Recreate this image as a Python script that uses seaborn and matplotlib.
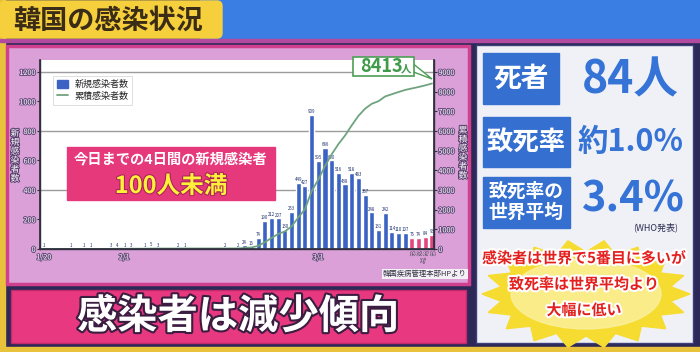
import matplotlib
matplotlib.use("Agg")
import matplotlib.pyplot as plt
import matplotlib.patheffects as pe
from matplotlib.patches import Rectangle, FancyBboxPatch, Polygon, Ellipse, Patch
from matplotlib.lines import Line2D
import numpy as np
import pandas as pd
import seaborn as sns

# ---------------- data ----------------
dates = pd.date_range("2020-01-20", "2020-03-18", freq="D")
new_cases = [1, 0, 0, 0, 1, 0, 1, 1, 0, 0,
             3, 4, 1, 3, 0, 1, 5, 3, 0, 0,
             2, 1, 0, 0, 0, 0, 0, 2, 0, 2,
             24, 16, 74, 190, 212, 207, 130, 253, 449, 427,
             909, 595, 686, 600, 516, 438, 518, 483, 367, 248,
             131, 242, 114, 110, 107, 76, 74, 84, 93]
cumulative = [1, 1, 1, 1, 2, 2, 3, 4, 4, 4,
              7, 11, 12, 15, 15, 16, 21, 24, 24, 24,
              26, 27, 27, 27, 27, 27, 27, 29, 29, 31,
              55, 80, 154, 344, 556, 763, 893, 1146, 1595, 2022,
              2931, 3526, 4212, 4812, 5328, 5766, 6284, 6767, 7134, 7382,
              7513, 7755, 7869, 7979, 8086, 8162, 8236, 8320, 8413]
highlight_days = ["3/15", "3/16", "3/17", "3/18"]
xtick_days = ["1/20", "2/1", "3/1"]
left_ticks = [0, 200, 400, 600, 800, 1000, 1200]
right_ticks = [0, 1000, 2000, 3000, 4000, 5000, 6000, 7000, 8000, 9000]
grid_levels = [400, 800, 1200]

title = "韓国の感染状況"
banner = "感染者は減少傾向"
overlay1 = "今日までの4日間の新規感染者"
overlay2 = "100人未満"
deaths = "84人"
fatality = "約1.0%"
world_avg = "3.4%"
note_lines = ["感染者は世界で5番目に多いが", "致死率は世界平均より", "大幅に低い"]

# ---------------- setup ----------------
sns.set_theme(style="white")
plt.rcParams["font.family"] = ["Noto Sans CJK JP", "DejaVu Sans"]

W, H = 700, 352
fig = plt.figure(figsize=(7, 3.52), dpi=100)
fig.patch.set_facecolor("#2c2858")

def rect(x0, y0, x1, y1):
    return [x0 / W, 1 - y1 / H, (x1 - x0) / W, (y1 - y0) / H]

# background canvas in pixel coordinates
bg = fig.add_axes([0, 0, 1, 1], zorder=0)
bg.set_xlim(0, W); bg.set_ylim(H, 0); bg.axis("off")

bg.add_patch(Rectangle((0, 0), 5, H, color="#e9c23c"))
bg.add_patch(Rectangle((0, 347), W, 5, color="#e9c23c"))
bg.add_patch(Rectangle((200, 0), 500, 39, color="#3a7de3"))
bg.add_patch(Rectangle((0, 39), W, 3, color="#b24aa0"))
bg.add_patch(FancyBboxPatch((0, 1), 222, 37, boxstyle="round,pad=0,rounding_size=5",
                            color="#f6cf3d"))
bg.text(108, 21, title, ha="center", va="center", fontsize=19.5, fontweight="bold",
        color="#3a2c16")

# left chart panel
bg.add_patch(Rectangle((7, 46), 462, 238, facecolor="#dca0d8", edgecolor="#d0408e", lw=2.5))
# bottom banner
bg.add_patch(Rectangle((11, 290), 455, 53, facecolor="#e8387f", edgecolor="#c02a6a", lw=1))
bg.text(238, 317, banner, ha="center", va="center", fontsize=29, fontweight="bold",
        color="white", path_effects=[pe.withStroke(linewidth=3, foreground="#3a1d40")])

# right panel
bg.add_patch(Rectangle((476, 45), 217, 298, facecolor="#f0f1f6", edgecolor="#3c3f7a", lw=1))
blue_box = "#3570d0"
bg.add_patch(Rectangle((483, 53), 76, 51, color=blue_box))
bg.text(521, 79, "死者", ha="center", va="center", fontsize=20, fontweight="bold", color="white")
bg.text(630, 80, deaths, ha="center", va="center", fontsize=32, fontweight="bold", color="#3573d6")
bg.add_patch(Rectangle((483, 117), 87, 50, color=blue_box))
bg.text(526, 142, "致死率", ha="center", va="center", fontsize=19, fontweight="bold", color="white")
bg.text(631, 142, fatality, ha="center", va="center", fontsize=22, fontweight="bold", color="#3573d6")
bg.add_patch(Rectangle((483, 177), 87, 51, color=blue_box))
bg.text(526, 202, "致死率の\n世界平均", ha="center", va="center", fontsize=13.5, fontweight="bold",
        color="white", linespacing=1.15)
bg.text(633, 199, world_avg, ha="center", va="center", fontsize=30, fontweight="bold", color="#3573d6")
bg.text(656, 227, "(WHO発表)", ha="center", va="center", fontsize=6.5, color="#2a2c50")

# starburst
n = 18
ang = np.linspace(0, 2 * np.pi, 2 * n, endpoint=False)
rx = np.where(np.arange(2 * n) % 2 == 0, 104, 86)
ry = np.where(np.arange(2 * n) % 2 == 0, 54, 42)
star = np.column_stack([586 + rx * np.cos(ang), 294 + ry * np.sin(ang)])
bg.add_patch(Polygon(star, closed=True, color="#f6dc30"))
bg.add_patch(Ellipse((586, 294), 150, 70, color="#fbf1a0", alpha=0.8))
for txt, yy in zip(note_lines, [258, 284, 310]):
    bg.text(584, yy, txt, ha="center", va="center", fontsize=10.8, fontweight="bold",
            color="#e4201e", path_effects=[pe.withStroke(linewidth=3, foreground="white")])

# ---------------- chart ----------------
labels = [f"{d.month}/{d.day}" for d in dates]
df = pd.DataFrame({
    "day": np.arange(len(dates)),
    "label": labels,
    "new": new_cases,
    "cum": cumulative,
})
df["kind"] = np.where(df["label"].isin(highlight_days), "recent", "normal")

ax = fig.add_axes(rect(40, 60, 434, 249), zorder=2)
ax.set_facecolor("white")
sns.barplot(data=df, x="day", y="new", hue="kind", hue_order=["normal", "recent"],
            palette={"normal": "#3b63c3", "recent": "#e2457f"}, native_scale=True,
            dodge=False, width=0.76, saturation=1, legend=False, ax=ax)
ax.set_xlim(-0.6, 58.3)
ax.set_ylim(0, 1281)
for g in grid_levels:
    ax.axhline(g, color="#9c9c9c", lw=1, zorder=0.5)
ax.set_xlabel(""); ax.set_ylabel("")

pos = [labels.index(t) for t in xtick_days]
ax.set_xticks(pos, xtick_days)
ax.set_yticks(left_ticks, [str(t) for t in left_ticks])
ax.tick_params(axis="both", length=2, width=0.8, colors="#303040", labelsize=5.2, pad=1.2)
stroke = [pe.withStroke(linewidth=1.4, foreground="#6a5080")]
for lbl in ax.get_yticklabels() + ax.get_xticklabels():
    lbl.set_color("white")
    lbl.set_path_effects(stroke)
for s in ["left", "bottom", "right"]:
    ax.spines[s].set_color("#303040"); ax.spines[s].set_linewidth(1)
ax.spines["top"].set_visible(False)

for d, v in zip(df["day"], df["new"]):
    if v > 0:
        ax.annotate(str(v), (d, v), xytext=(0, 0.6), textcoords="offset points",
                    ha="center", va="bottom", fontsize=3.1, color="#1c2f70")

ax2 = ax.twinx()
ax2.set_zorder(3)
ax2.patch.set_visible(False)
sns.lineplot(data=df, x="day", y="cum", ax=ax2, color="#6fa37f", lw=1.3, legend=False)
ax2.set_ylim(0, 1281 * 7.5)
ax2.set_xlim(-0.6, 58.3)
ax2.set_yticks(right_ticks, [str(t) for t in right_ticks])
ax2.tick_params(axis="y", length=2, width=0.8, colors="#303040", labelsize=5.2, pad=1.2)
for lbl in ax2.get_yticklabels():
    lbl.set_color("white")
    lbl.set_path_effects(stroke)
ax2.set_ylabel(""); ax2.set_xlabel("")
for s in ["left", "bottom", "right"]:
    ax2.spines[s].set_color("#303040")
ax2.spines["top"].set_visible(False)

handles = [Patch(color="#3b63c3", label="新規感染者数"),
           Line2D([0], [0], color="#6fa37f", lw=1.3, label="累積感染者数")]
leg = ax2.legend(handles=handles, loc="upper left", bbox_to_anchor=(0.022, 0.94),
                 fontsize=6.5, frameon=True, fancybox=False, edgecolor="#d0d0d0",
                 handlelength=1.2, handleheight=1.0, borderpad=0.4, labelspacing=0.35)
leg.get_frame().set_linewidth(0.6)

# ---------------- overlays ----------------
ov = fig.add_axes([0, 0, 1, 1], zorder=5)
ov.set_xlim(0, W); ov.set_ylim(H, 0); ov.axis("off"); ov.patch.set_visible(False)

vstroke = [pe.withStroke(linewidth=1.5, foreground="#5a4070")]
ov.text(15, 156, "\n".join("新規感染者数"), ha="center", va="center", fontsize=6.3,
        color="white", linespacing=1.0, path_effects=vstroke)
ov.text(463, 153, "\n".join("累積感染者数"), ha="center", va="center", fontsize=6.3,
        color="white", linespacing=1.0, path_effects=vstroke)

ov.add_patch(Rectangle((67, 147), 208, 53, color="#e6397c"))
ov.text(171, 159, overlay1, ha="center", va="center", fontsize=10.3, fontweight="bold", color="white")
ov.text(171, 186, overlay2, ha="center", va="center", fontsize=17, fontweight="bold",
        color="#fff03a", path_effects=[pe.withStroke(linewidth=1.5, foreground="#a8225a")])

ov.add_patch(Polygon([(411, 62), (432, 79), (411, 71)], closed=True, facecolor="white",
                     edgecolor="#4d9e55", lw=1))
ov.add_patch(Rectangle((353, 57), 61, 19, facecolor="white", edgecolor="#4d9e55", lw=1.2))
ov.text(381, 67, f"{cumulative[-1]}", ha="center", va="center", fontsize=13, fontweight="bold",
        color="#3f9a4a")
ov.text(406, 69, "人", ha="center", va="center", fontsize=7.5, fontweight="bold", color="#3f9a4a")

for i, t in enumerate(highlight_days):
    ov.text(412.5 + i * 6.7, 254, t.split("/")[1], ha="center", va="center", fontsize=3.4,
            color="white", path_effects=[pe.withStroke(linewidth=0.8, foreground="#7a5080")])
ov.text(423, 261, "3/", ha="center", va="center", fontsize=3.8, color="white",
        path_effects=[pe.withStroke(linewidth=0.8, foreground="#7a5080")])
ov.text(425, 274, "韓国疾病管理本部HPより", ha="center", va="center", fontsize=5.3,
        color="#303040", bbox=dict(facecolor="#f4f0f6", edgecolor="none", pad=1))

fig.savefig("out.png", dpi=100, facecolor=fig.get_facecolor())
